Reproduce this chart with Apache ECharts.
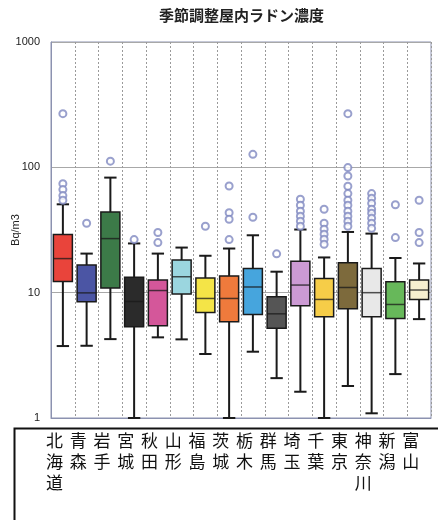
<!DOCTYPE html>
<html>
<head>
<meta charset="utf-8">
<script src="https://cdn.jsdelivr.net/npm/echarts@6/dist/echarts.min.js"></script>
<style>
  html, body { margin: 0; padding: 0; background: #fff; }
  #chart { width: 438px; height: 520px; }
</style>
</head>
<body>
<div id="chart"></div>
<script>
// Prefectures along the category axis
const prefectures = ['北海道', '青森', '岩手', '宮城', '秋田', '山形', '福島', '茨城',
  '栃木', '群馬', '埼玉', '千葉', '東京', '神奈川', '新潟', '富山'];

// Box statistics per prefecture (Bq/m3)
const whiskerLow  = [3.75, 3.77, 4.26, 1.0, 4.40, 4.24, 3.24, 1.0, 3.38, 2.08, 1.62, 1.0, 1.80, 1.09, 2.24, 6.15];
const quartile1   = [12.3, 8.45, 10.9, 5.34, 5.44, 9.78, 6.95, 5.85, 6.70, 5.19, 7.85, 6.42, 7.43, 6.42, 6.23, 8.83];
const medians     = [18.7, 9.96, 27.0, 8.5, 10.4, 13.4, 8.99, 8.99, 11.1, 6.78, 11.5, 8.83, 11.0, 10.0, 8.05, 10.5];
const quartile3   = [29.1, 16.6, 44.0, 13.3, 12.6, 18.2, 13.1, 13.6, 15.6, 9.26, 17.8, 13.0, 17.3, 15.6, 12.2, 12.6];
const whiskerHigh = [50.7, 20.5, 82.8, 24.7, 20.5, 22.9, 19.7, 22.5, 28.7, 14.7, 31.9, 19.1, 30.5, 29.6, 18.9, 17.1];

// Outlying measurements per prefecture
const outliers = [
  [268, 74.1, 66.4, 59.5, 54.6],
  [35.8],
  [112],
  [26.5],
  [30.2, 25.1],
  [],
  [33.9],
  [71.0, 43.4, 38.5, 26.5],
  [127, 40.0],
  [20.4],
  [55.6, 49.8, 44.6, 40.7, 37.1, 33.9],
  [46.3, 35.8, 32.1, 29.3, 26.7, 24.3],
  [268, 99.5, 85.3, 70.6, 61.7, 54.6, 49.8, 44.6, 40.7, 37.1, 33.9],
  [61.7, 56.6, 51.6, 46.3, 43.1, 39.3, 35.8, 32.6],
  [50.3, 27.5],
  [54.6, 30.2, 25.1]
];

// Y axis ticks
const yTicks = [1, 10, 100, 1000];

// Fill colour of each prefecture's box
const boxColors = ['#e9443b', '#4b55a4', '#3c7a48', '#2b2b2b', '#d4579a', '#9bd6df',
  '#f4e447', '#ef7a3c', '#46a5dd', '#555555', '#cc9ad4', '#f6cd48',
  '#7d6a3c', '#e8e8e8', '#67b85a', '#f6efcf'];

const boxData = prefectures.map((p, i) =>
  [i, whiskerLow[i], quartile1[i], medians[i], quartile3[i], whiskerHigh[i]]);

const outlierData = [];
outliers.forEach((list, i) => list.forEach(v => outlierData.push([i, v])));

function renderBox(params, api) {
  const i = api.value(0);
  const bandW = api.size([1, 1])[0];
  const boxW = bandW * 0.8;
  const capW = bandW * 0.52;
  const pLow = api.coord([i, api.value(1)]);
  const pQ1 = api.coord([i, api.value(2)]);
  const pMed = api.coord([i, api.value(3)]);
  const pQ3 = api.coord([i, api.value(4)]);
  const pHigh = api.coord([i, api.value(5)]);
  const x = pQ1[0];
  const lineStyle = { stroke: '#1a1a1a', lineWidth: 2 };
  return {
    type: 'group',
    children: [
      { type: 'line', shape: { x1: x, y1: pHigh[1], x2: x, y2: pQ3[1] }, style: lineStyle },
      { type: 'line', shape: { x1: x, y1: pQ1[1], x2: x, y2: pLow[1] }, style: lineStyle },
      { type: 'line', shape: { x1: x - capW / 2, y1: pHigh[1], x2: x + capW / 2, y2: pHigh[1] }, style: lineStyle },
      { type: 'line', shape: { x1: x - capW / 2, y1: pLow[1], x2: x + capW / 2, y2: pLow[1] }, style: lineStyle },
      { type: 'rect', shape: { x: x - boxW / 2, y: pQ3[1], width: boxW, height: pQ1[1] - pQ3[1] },
        style: { fill: boxColors[i], stroke: '#1a1a1a', lineWidth: 1.5 } },
      { type: 'line', shape: { x1: x - boxW / 2, y1: pMed[1], x2: x + boxW / 2, y2: pMed[1] },
        style: { stroke: '#1a1a1a', lineWidth: 1.5, opacity: 0.75 } }
    ]
  };
}

const chart = echarts.init(document.getElementById('chart'), null, { renderer: 'canvas' });
chart.setOption({
  backgroundColor: '#ffffff',
  animation: false,
  title: {
    text: '季節調整屋内ラドン濃度',
    left: 154,
    top: 3,
    textStyle: { fontFamily: 'Noto Sans CJK JP', fontSize: 15, fontWeight: 'bold', color: '#222' }
  },
  grid: {
    left: 51, right: 7, top: 42, bottom: 102,
    outerBoundsMode: 'none',
    containLabel: false,
    show: true, borderColor: '#8c92b0', borderWidth: 1, backgroundColor: 'transparent'
  },
  xAxis: {
    type: 'category',
    data: prefectures,
    boundaryGap: true,
    axisLine: { lineStyle: { color: '#8c92b0' } },
    axisTick: { show: false },
    splitLine: { show: true, interval: 0, lineStyle: { color: '#9a9a9a', type: [2, 2], width: 1 } },
    axisLabel: {
      interval: 0,
      margin: 12,
      fontFamily: 'Noto Sans CJK JP',
      fontSize: 17,
      lineHeight: 21,
      color: '#111',
      verticalAlign: 'top',
      padding: [0, 17, 0, 0],
      formatter: v => v.split('').join('\n')
    }
  },
  yAxis: {
    type: 'log',
    logBase: 10,
    min: yTicks[0],
    max: yTicks[yTicks.length - 1],
    name: 'Bq/m3',
    nameLocation: 'middle',
    nameGap: 30,
    nameRotate: 90,
    nameMoveOverlap: false,
    nameTextStyle: { fontFamily: 'Liberation Sans', fontSize: 11, color: '#222' },
    axisLine: { show: true, lineStyle: { color: '#8c92b0' } },
    axisTick: { show: false },
    minorTick: { show: false },
    splitLine: { show: true, lineStyle: { color: '#a8a8a8', width: 1 } },
    axisLabel: {
      margin: 11,
      fontFamily: 'Liberation Sans',
      fontSize: 11,
      color: '#222',
      formatter: v => yTicks.includes(Math.round(v)) ? String(Math.round(v)) : ''
    }
  },
  graphic: [{
    type: 'rect',
    left: 12, top: 426,
    shape: { width: 440, height: 100 },
    style: { fill: 'none', stroke: '#111', lineWidth: 2 },
    z: 10
  }],
  series: [
    {
      type: 'custom',
      renderItem: renderBox,
      data: boxData,
      encode: { x: 0, y: [1, 2, 3, 4, 5] },
      z: 3
    },
    {
      type: 'scatter',
      data: outlierData,
      symbol: 'emptyCircle',
      symbolSize: 7,
      itemStyle: { color: '#8088c0', borderColor: '#8088c0', borderWidth: 1 },
      z: 4
    }
  ]
});
</script>
</body>
</html>
